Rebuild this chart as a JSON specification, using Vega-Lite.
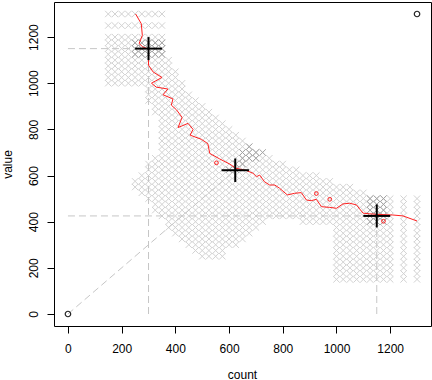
{
"$schema":"https://vega.github.io/schema/vega-lite/v6.json",
"width":377,"height":324,
"autosize":{"type":"none"},
"padding":{"left":54,"top":2,"right":1,"bottom":54},
"background":"white",
"config":{"view":{"stroke":"black","strokeWidth":1},
"axis":{"domain":false,"grid":false,"tickColor":"black","tickSize":7,"tickWidth":1,"labelFont":"Liberation Sans","labelFontSize":12,"labelColor":"black","titleFont":"Liberation Sans","titleFontSize":12,"titleFontWeight":"normal","titleColor":"black","labelOverlap":false,"format":"d"}},
"datasets":{
"cloud":[
{"c":150,"v":1000},{"c":150,"v":1025},{"c":150,"v":1050},{"c":150,"v":1075},{"c":150,"v":1100},{"c":150,"v":1125},{"c":150,"v":1150},{"c":150,"v":1175},{"c":150,"v":1200},{"c":150,"v":1250},{"c":150,"v":1300},
{"c":175,"v":1000},{"c":175,"v":1025},{"c":175,"v":1050},{"c":175,"v":1075},{"c":175,"v":1100},{"c":175,"v":1125},{"c":175,"v":1150},{"c":175,"v":1175},{"c":175,"v":1200},{"c":175,"v":1250},{"c":175,"v":1300},
{"c":200,"v":1000},{"c":200,"v":1025},{"c":200,"v":1050},{"c":200,"v":1075},{"c":200,"v":1100},{"c":200,"v":1125},{"c":200,"v":1150},{"c":200,"v":1175},{"c":200,"v":1200},{"c":200,"v":1250},{"c":200,"v":1300},
{"c":225,"v":1000},{"c":225,"v":1025},{"c":225,"v":1050},{"c":225,"v":1075},{"c":225,"v":1100},{"c":225,"v":1125},{"c":225,"v":1150},{"c":225,"v":1175},{"c":225,"v":1200},{"c":225,"v":1250},{"c":225,"v":1300},
{"c":250,"v":550},{"c":250,"v":575},{"c":250,"v":1000},{"c":250,"v":1025},{"c":250,"v":1050},{"c":250,"v":1075},{"c":250,"v":1100},{"c":250,"v":1125},{"c":250,"v":1150},{"c":250,"v":1175},{"c":250,"v":1200},{"c":250,"v":1250},{"c":250,"v":1300},
{"c":275,"v":525},{"c":275,"v":550},{"c":275,"v":575},{"c":275,"v":600},{"c":275,"v":1000},{"c":275,"v":1025},{"c":275,"v":1050},{"c":275,"v":1075},{"c":275,"v":1100},{"c":275,"v":1125},{"c":275,"v":1150},{"c":275,"v":1175},{"c":275,"v":1200},{"c":275,"v":1250},{"c":275,"v":1300},
{"c":300,"v":500},{"c":300,"v":525},{"c":300,"v":550},{"c":300,"v":575},{"c":300,"v":600},{"c":300,"v":625},{"c":300,"v":650},{"c":300,"v":925},{"c":300,"v":950},{"c":300,"v":975},{"c":300,"v":1000},{"c":300,"v":1025},{"c":300,"v":1050},{"c":300,"v":1075},{"c":300,"v":1100},{"c":300,"v":1125},{"c":300,"v":1150},{"c":300,"v":1175},{"c":300,"v":1200},{"c":300,"v":1250},{"c":300,"v":1300},
{"c":325,"v":450},{"c":325,"v":475},{"c":325,"v":500},{"c":325,"v":525},{"c":325,"v":550},{"c":325,"v":575},{"c":325,"v":600},{"c":325,"v":625},{"c":325,"v":650},{"c":325,"v":675},{"c":325,"v":875},{"c":325,"v":900},{"c":325,"v":925},{"c":325,"v":950},{"c":325,"v":975},{"c":325,"v":1000},{"c":325,"v":1025},{"c":325,"v":1050},{"c":325,"v":1075},{"c":325,"v":1100},{"c":325,"v":1125},{"c":325,"v":1150},{"c":325,"v":1175},{"c":325,"v":1200},{"c":325,"v":1250},{"c":325,"v":1300},
{"c":350,"v":425},{"c":350,"v":450},{"c":350,"v":475},{"c":350,"v":500},{"c":350,"v":525},{"c":350,"v":550},{"c":350,"v":575},{"c":350,"v":600},{"c":350,"v":625},{"c":350,"v":650},{"c":350,"v":675},{"c":350,"v":700},{"c":350,"v":725},{"c":350,"v":750},{"c":350,"v":775},{"c":350,"v":800},{"c":350,"v":825},{"c":350,"v":850},{"c":350,"v":875},{"c":350,"v":900},{"c":350,"v":925},{"c":350,"v":950},{"c":350,"v":975},{"c":350,"v":1000},{"c":350,"v":1025},{"c":350,"v":1050},{"c":350,"v":1075},{"c":350,"v":1100},{"c":350,"v":1125},{"c":350,"v":1150},{"c":350,"v":1175},{"c":350,"v":1200},{"c":350,"v":1250},{"c":350,"v":1300},
{"c":375,"v":375},{"c":375,"v":400},{"c":375,"v":425},{"c":375,"v":450},{"c":375,"v":475},{"c":375,"v":500},{"c":375,"v":525},{"c":375,"v":550},{"c":375,"v":575},{"c":375,"v":600},{"c":375,"v":625},{"c":375,"v":650},{"c":375,"v":675},{"c":375,"v":700},{"c":375,"v":725},{"c":375,"v":750},{"c":375,"v":775},{"c":375,"v":800},{"c":375,"v":825},{"c":375,"v":850},{"c":375,"v":875},{"c":375,"v":900},{"c":375,"v":925},{"c":375,"v":950},{"c":375,"v":975},{"c":375,"v":1000},{"c":375,"v":1025},{"c":375,"v":1050},{"c":375,"v":1075},{"c":375,"v":1100},
{"c":400,"v":350},{"c":400,"v":375},{"c":400,"v":400},{"c":400,"v":425},{"c":400,"v":450},{"c":400,"v":475},{"c":400,"v":500},{"c":400,"v":525},{"c":400,"v":550},{"c":400,"v":575},{"c":400,"v":600},{"c":400,"v":625},{"c":400,"v":650},{"c":400,"v":675},{"c":400,"v":700},{"c":400,"v":725},{"c":400,"v":750},{"c":400,"v":775},{"c":400,"v":800},{"c":400,"v":825},{"c":400,"v":850},{"c":400,"v":875},{"c":400,"v":900},{"c":400,"v":925},{"c":400,"v":950},{"c":400,"v":975},{"c":400,"v":1000},{"c":400,"v":1025},{"c":400,"v":1050},
{"c":425,"v":325},{"c":425,"v":350},{"c":425,"v":375},{"c":425,"v":400},{"c":425,"v":425},{"c":425,"v":450},{"c":425,"v":475},{"c":425,"v":500},{"c":425,"v":525},{"c":425,"v":550},{"c":425,"v":575},{"c":425,"v":600},{"c":425,"v":625},{"c":425,"v":650},{"c":425,"v":675},{"c":425,"v":700},{"c":425,"v":725},{"c":425,"v":750},{"c":425,"v":775},{"c":425,"v":800},{"c":425,"v":825},{"c":425,"v":850},{"c":425,"v":875},{"c":425,"v":900},{"c":425,"v":925},{"c":425,"v":950},{"c":425,"v":975},{"c":425,"v":1000},
{"c":450,"v":300},{"c":450,"v":325},{"c":450,"v":350},{"c":450,"v":375},{"c":450,"v":400},{"c":450,"v":425},{"c":450,"v":450},{"c":450,"v":475},{"c":450,"v":500},{"c":450,"v":525},{"c":450,"v":550},{"c":450,"v":575},{"c":450,"v":600},{"c":450,"v":625},{"c":450,"v":650},{"c":450,"v":675},{"c":450,"v":700},{"c":450,"v":725},{"c":450,"v":750},{"c":450,"v":775},{"c":450,"v":800},{"c":450,"v":825},{"c":450,"v":850},{"c":450,"v":875},{"c":450,"v":900},{"c":450,"v":925},{"c":450,"v":950},
{"c":475,"v":275},{"c":475,"v":300},{"c":475,"v":325},{"c":475,"v":350},{"c":475,"v":375},{"c":475,"v":400},{"c":475,"v":425},{"c":475,"v":450},{"c":475,"v":475},{"c":475,"v":500},{"c":475,"v":525},{"c":475,"v":550},{"c":475,"v":575},{"c":475,"v":600},{"c":475,"v":625},{"c":475,"v":650},{"c":475,"v":675},{"c":475,"v":700},{"c":475,"v":725},{"c":475,"v":750},{"c":475,"v":775},{"c":475,"v":800},{"c":475,"v":825},{"c":475,"v":850},{"c":475,"v":875},{"c":475,"v":900},{"c":475,"v":925},
{"c":500,"v":250},{"c":500,"v":275},{"c":500,"v":300},{"c":500,"v":325},{"c":500,"v":350},{"c":500,"v":375},{"c":500,"v":400},{"c":500,"v":425},{"c":500,"v":450},{"c":500,"v":475},{"c":500,"v":500},{"c":500,"v":525},{"c":500,"v":550},{"c":500,"v":575},{"c":500,"v":600},{"c":500,"v":625},{"c":500,"v":650},{"c":500,"v":675},{"c":500,"v":700},{"c":500,"v":725},{"c":500,"v":750},{"c":500,"v":775},{"c":500,"v":800},{"c":500,"v":825},{"c":500,"v":850},{"c":500,"v":875},{"c":500,"v":900},
{"c":525,"v":250},{"c":525,"v":275},{"c":525,"v":300},{"c":525,"v":325},{"c":525,"v":350},{"c":525,"v":375},{"c":525,"v":400},{"c":525,"v":425},{"c":525,"v":450},{"c":525,"v":475},{"c":525,"v":500},{"c":525,"v":525},{"c":525,"v":550},{"c":525,"v":575},{"c":525,"v":600},{"c":525,"v":625},{"c":525,"v":650},{"c":525,"v":675},{"c":525,"v":700},{"c":525,"v":725},{"c":525,"v":750},{"c":525,"v":775},{"c":525,"v":800},{"c":525,"v":825},{"c":525,"v":850},{"c":525,"v":875},
{"c":550,"v":250},{"c":550,"v":275},{"c":550,"v":300},{"c":550,"v":325},{"c":550,"v":350},{"c":550,"v":375},{"c":550,"v":400},{"c":550,"v":425},{"c":550,"v":450},{"c":550,"v":475},{"c":550,"v":500},{"c":550,"v":525},{"c":550,"v":550},{"c":550,"v":575},{"c":550,"v":600},{"c":550,"v":625},{"c":550,"v":650},{"c":550,"v":675},{"c":550,"v":700},{"c":550,"v":725},{"c":550,"v":750},{"c":550,"v":775},{"c":550,"v":800},{"c":550,"v":825},{"c":550,"v":850},
{"c":575,"v":250},{"c":575,"v":275},{"c":575,"v":300},{"c":575,"v":325},{"c":575,"v":350},{"c":575,"v":375},{"c":575,"v":400},{"c":575,"v":425},{"c":575,"v":450},{"c":575,"v":475},{"c":575,"v":500},{"c":575,"v":525},{"c":575,"v":550},{"c":575,"v":575},{"c":575,"v":600},{"c":575,"v":625},{"c":575,"v":650},{"c":575,"v":675},{"c":575,"v":700},{"c":575,"v":725},{"c":575,"v":750},{"c":575,"v":775},{"c":575,"v":800},{"c":575,"v":825},
{"c":600,"v":300},{"c":600,"v":325},{"c":600,"v":350},{"c":600,"v":375},{"c":600,"v":400},{"c":600,"v":425},{"c":600,"v":450},{"c":600,"v":475},{"c":600,"v":500},{"c":600,"v":525},{"c":600,"v":550},{"c":600,"v":575},{"c":600,"v":600},{"c":600,"v":625},{"c":600,"v":650},{"c":600,"v":675},{"c":600,"v":700},{"c":600,"v":725},{"c":600,"v":750},{"c":600,"v":775},{"c":600,"v":800},
{"c":625,"v":300},{"c":625,"v":325},{"c":625,"v":350},{"c":625,"v":375},{"c":625,"v":400},{"c":625,"v":425},{"c":625,"v":450},{"c":625,"v":475},{"c":625,"v":500},{"c":625,"v":525},{"c":625,"v":550},{"c":625,"v":575},{"c":625,"v":600},{"c":625,"v":625},{"c":625,"v":650},{"c":625,"v":675},{"c":625,"v":700},{"c":625,"v":725},{"c":625,"v":750},{"c":625,"v":775},
{"c":650,"v":325},{"c":650,"v":350},{"c":650,"v":375},{"c":650,"v":400},{"c":650,"v":425},{"c":650,"v":450},{"c":650,"v":475},{"c":650,"v":500},{"c":650,"v":525},{"c":650,"v":550},{"c":650,"v":575},{"c":650,"v":600},{"c":650,"v":625},{"c":650,"v":650},{"c":650,"v":675},{"c":650,"v":700},{"c":650,"v":725},{"c":650,"v":750},
{"c":675,"v":350},{"c":675,"v":375},{"c":675,"v":400},{"c":675,"v":425},{"c":675,"v":450},{"c":675,"v":475},{"c":675,"v":500},{"c":675,"v":525},{"c":675,"v":550},{"c":675,"v":575},{"c":675,"v":600},{"c":675,"v":625},{"c":675,"v":650},{"c":675,"v":675},{"c":675,"v":700},{"c":675,"v":725},
{"c":700,"v":375},{"c":700,"v":400},{"c":700,"v":425},{"c":700,"v":450},{"c":700,"v":475},{"c":700,"v":500},{"c":700,"v":525},{"c":700,"v":550},{"c":700,"v":575},{"c":700,"v":600},{"c":700,"v":625},{"c":700,"v":650},{"c":700,"v":675},{"c":700,"v":700},
{"c":725,"v":400},{"c":725,"v":425},{"c":725,"v":450},{"c":725,"v":475},{"c":725,"v":500},{"c":725,"v":525},{"c":725,"v":550},{"c":725,"v":575},{"c":725,"v":600},{"c":725,"v":625},{"c":725,"v":650},{"c":725,"v":675},
{"c":750,"v":425},{"c":750,"v":450},{"c":750,"v":475},{"c":750,"v":500},{"c":750,"v":525},{"c":750,"v":550},{"c":750,"v":575},{"c":750,"v":600},{"c":750,"v":625},{"c":750,"v":650},{"c":750,"v":675},
{"c":775,"v":425},{"c":775,"v":450},{"c":775,"v":475},{"c":775,"v":500},{"c":775,"v":525},{"c":775,"v":550},{"c":775,"v":575},{"c":775,"v":600},{"c":775,"v":625},{"c":775,"v":650},
{"c":800,"v":425},{"c":800,"v":450},{"c":800,"v":475},{"c":800,"v":500},{"c":800,"v":525},{"c":800,"v":550},{"c":800,"v":575},{"c":800,"v":600},{"c":800,"v":625},{"c":800,"v":650},
{"c":825,"v":425},{"c":825,"v":450},{"c":825,"v":475},{"c":825,"v":500},{"c":825,"v":525},{"c":825,"v":550},{"c":825,"v":575},{"c":825,"v":600},{"c":825,"v":625},
{"c":850,"v":425},{"c":850,"v":450},{"c":850,"v":475},{"c":850,"v":500},{"c":850,"v":525},{"c":850,"v":550},{"c":850,"v":575},{"c":850,"v":600},{"c":850,"v":625},
{"c":875,"v":400},{"c":875,"v":425},{"c":875,"v":450},{"c":875,"v":475},{"c":875,"v":500},{"c":875,"v":525},{"c":875,"v":550},{"c":875,"v":575},{"c":875,"v":600},
{"c":900,"v":400},{"c":900,"v":425},{"c":900,"v":450},{"c":900,"v":475},{"c":900,"v":500},{"c":900,"v":525},{"c":900,"v":550},{"c":900,"v":575},{"c":900,"v":600},
{"c":925,"v":400},{"c":925,"v":425},{"c":925,"v":450},{"c":925,"v":475},{"c":925,"v":500},{"c":925,"v":525},{"c":925,"v":550},{"c":925,"v":575},{"c":925,"v":600},
{"c":950,"v":400},{"c":950,"v":425},{"c":950,"v":450},{"c":950,"v":475},{"c":950,"v":500},{"c":950,"v":525},{"c":950,"v":550},{"c":950,"v":575},
{"c":975,"v":400},{"c":975,"v":425},{"c":975,"v":450},{"c":975,"v":475},{"c":975,"v":500},{"c":975,"v":525},{"c":975,"v":550},{"c":975,"v":575},
{"c":1000,"v":150},{"c":1000,"v":175},{"c":1000,"v":200},{"c":1000,"v":225},{"c":1000,"v":250},{"c":1000,"v":275},{"c":1000,"v":300},{"c":1000,"v":325},{"c":1000,"v":350},{"c":1000,"v":375},{"c":1000,"v":400},{"c":1000,"v":425},{"c":1000,"v":450},{"c":1000,"v":475},{"c":1000,"v":500},{"c":1000,"v":525},{"c":1000,"v":550},
{"c":1025,"v":150},{"c":1025,"v":175},{"c":1025,"v":200},{"c":1025,"v":225},{"c":1025,"v":250},{"c":1025,"v":275},{"c":1025,"v":300},{"c":1025,"v":325},{"c":1025,"v":350},{"c":1025,"v":375},{"c":1025,"v":400},{"c":1025,"v":425},{"c":1025,"v":450},{"c":1025,"v":475},{"c":1025,"v":500},{"c":1025,"v":525},{"c":1025,"v":550},
{"c":1050,"v":150},{"c":1050,"v":175},{"c":1050,"v":200},{"c":1050,"v":225},{"c":1050,"v":250},{"c":1050,"v":275},{"c":1050,"v":300},{"c":1050,"v":325},{"c":1050,"v":350},{"c":1050,"v":375},{"c":1050,"v":400},{"c":1050,"v":425},{"c":1050,"v":450},{"c":1050,"v":475},{"c":1050,"v":500},{"c":1050,"v":525},{"c":1050,"v":550},
{"c":1075,"v":150},{"c":1075,"v":175},{"c":1075,"v":200},{"c":1075,"v":225},{"c":1075,"v":250},{"c":1075,"v":275},{"c":1075,"v":300},{"c":1075,"v":325},{"c":1075,"v":350},{"c":1075,"v":375},{"c":1075,"v":400},{"c":1075,"v":425},{"c":1075,"v":450},{"c":1075,"v":475},{"c":1075,"v":500},{"c":1075,"v":525},
{"c":1100,"v":150},{"c":1100,"v":175},{"c":1100,"v":200},{"c":1100,"v":225},{"c":1100,"v":250},{"c":1100,"v":275},{"c":1100,"v":300},{"c":1100,"v":325},{"c":1100,"v":350},{"c":1100,"v":375},{"c":1100,"v":400},{"c":1100,"v":425},{"c":1100,"v":450},{"c":1100,"v":475},{"c":1100,"v":500},{"c":1100,"v":525},
{"c":1125,"v":150},{"c":1125,"v":175},{"c":1125,"v":200},{"c":1125,"v":225},{"c":1125,"v":250},{"c":1125,"v":275},{"c":1125,"v":300},{"c":1125,"v":325},{"c":1125,"v":350},{"c":1125,"v":375},{"c":1125,"v":400},{"c":1125,"v":425},{"c":1125,"v":450},{"c":1125,"v":475},{"c":1125,"v":500},
{"c":1150,"v":150},{"c":1150,"v":175},{"c":1150,"v":200},{"c":1150,"v":225},{"c":1150,"v":250},{"c":1150,"v":275},{"c":1150,"v":300},{"c":1150,"v":325},{"c":1150,"v":350},{"c":1150,"v":375},{"c":1150,"v":400},{"c":1150,"v":425},{"c":1150,"v":450},{"c":1150,"v":475},{"c":1150,"v":500},
{"c":1175,"v":150},{"c":1175,"v":175},{"c":1175,"v":200},{"c":1175,"v":225},{"c":1175,"v":250},{"c":1175,"v":275},{"c":1175,"v":300},{"c":1175,"v":325},{"c":1175,"v":350},{"c":1175,"v":375},{"c":1175,"v":400},{"c":1175,"v":425},{"c":1175,"v":450},{"c":1175,"v":475},{"c":1175,"v":500},
{"c":1200,"v":150},{"c":1200,"v":175},{"c":1200,"v":200},{"c":1200,"v":225},{"c":1200,"v":250},{"c":1200,"v":275},{"c":1200,"v":300},{"c":1200,"v":325},{"c":1200,"v":350},{"c":1200,"v":375},{"c":1200,"v":400},{"c":1200,"v":425},{"c":1200,"v":450},{"c":1200,"v":475},{"c":1200,"v":500},
{"c":1250,"v":150},{"c":1250,"v":175},{"c":1250,"v":200},{"c":1250,"v":225},{"c":1250,"v":250},{"c":1250,"v":275},{"c":1250,"v":300},{"c":1250,"v":325},{"c":1250,"v":350},{"c":1250,"v":375},{"c":1250,"v":400},{"c":1250,"v":425},{"c":1250,"v":450},{"c":1250,"v":475},{"c":1250,"v":500},
{"c":1300,"v":150},{"c":1300,"v":175},{"c":1300,"v":200},{"c":1300,"v":225},{"c":1300,"v":250},{"c":1300,"v":275},{"c":1300,"v":300},{"c":1300,"v":325},{"c":1300,"v":350},{"c":1300,"v":375},{"c":1300,"v":400},{"c":1300,"v":425},{"c":1300,"v":450},{"c":1300,"v":475},{"c":1300,"v":500}
],
"dark":[
{"c":250,"v":1125},{"c":250,"v":1150},{"c":250,"v":1175},{"c":275,"v":1125},{"c":275,"v":1150},{"c":275,"v":1175},{"c":300,"v":1125},{"c":300,"v":1150},{"c":300,"v":1175},{"c":325,"v":1125},{"c":325,"v":1150},{"c":325,"v":1175},{"c":350,"v":1125},{"c":350,"v":1150},{"c":350,"v":1175},
{"c":600,"v":625},{"c":625,"v":625},{"c":625,"v":650},{"c":650,"v":650},{"c":650,"v":675},{"c":675,"v":675},{"c":650,"v":700},{"c":675,"v":700},{"c":700,"v":700},{"c":700,"v":675},{"c":725,"v":700},{"c":675,"v":725},
{"c":1125,"v":400},{"c":1125,"v":425},{"c":1125,"v":450},{"c":1125,"v":475},{"c":1125,"v":500},{"c":1150,"v":400},{"c":1150,"v":425},{"c":1150,"v":450},{"c":1150,"v":475},{"c":1150,"v":500},{"c":1175,"v":400},{"c":1175,"v":425},{"c":1175,"v":450},{"c":1175,"v":475},{"c":1175,"v":500}
],
"path":[
{"i":1,"c":252,"v":1300},{"i":2,"c":273,"v":1258},{"i":3,"c":277,"v":1207},{"i":4,"c":265,"v":1172},{"i":5,"c":279,"v":1157},{"i":6,"c":300,"v":1148},{"i":7,"c":300,"v":1078},{"i":8,"c":317,"v":1049},{"i":9,"c":350,"v":1025},{"i":10,"c":311,"v":1000},{"i":11,"c":329,"v":983},{"i":12,"c":372,"v":975},{"i":13,"c":354,"v":950},{"i":14,"c":391,"v":932},{"i":15,"c":385,"v":905},{"i":16,"c":404,"v":885},{"i":17,"c":425,"v":852},{"i":18,"c":410,"v":808},{"i":19,"c":447,"v":826},{"i":20,"c":466,"v":800},{"i":21,"c":455,"v":775},{"i":22,"c":497,"v":757},{"i":23,"c":521,"v":738},{"i":24,"c":528,"v":696},{"i":25,"c":565,"v":672},{"i":26,"c":602,"v":650},{"i":27,"c":625,"v":632},{"i":28,"c":664,"v":622},{"i":29,"c":689,"v":610},{"i":30,"c":702,"v":595},{"i":31,"c":714,"v":602},{"i":32,"c":732,"v":573},{"i":33,"c":751,"v":559},{"i":34,"c":770,"v":559},{"i":35,"c":788,"v":545},{"i":36,"c":817,"v":516},{"i":37,"c":844,"v":523},{"i":38,"c":869,"v":526},{"i":39,"c":888,"v":494},{"i":40,"c":906,"v":491},{"i":41,"c":925,"v":497},{"i":42,"c":944,"v":465},{"i":43,"c":975,"v":462},{"i":44,"c":1000,"v":458},{"i":45,"c":1024,"v":477},{"i":46,"c":1049,"v":480},{"i":47,"c":1074,"v":473},{"i":48,"c":1099,"v":437},{"i":49,"c":1124,"v":434},{"i":50,"c":1149,"v":432},{"i":51,"c":1210,"v":429},{"i":52,"c":1248,"v":425},{"i":53,"c":1300,"v":403}
],
"loops":[{"c":553,"v":655},{"c":975,"v":497},{"c":1175,"v":402},{"c":925,"v":522}],
"guides":[{"c":0,"c2":300,"v":1150,"v2":1150},{"c":300,"c2":300,"v":0,"v2":1150},{"c":0,"c2":1150,"v":425,"v2":425},{"c":1150,"c2":1150,"v":0,"v2":425},{"c":0,"c2":623,"v":0,"v2":623}],
"cross":[{"c":250,"c2":350,"v":1150,"v2":1150},{"c":300,"c2":300,"v":1100,"v2":1200},{"c":572,"c2":674,"v":623,"v2":623},{"c":623,"c2":623,"v":572,"v2":674},{"c":1100,"c2":1200,"v":425,"v2":425},{"c":1150,"c2":1150,"v":375,"v2":475}],
"ends":[{"c":0,"v":0},{"c":1300,"v":1300}]
},
"encoding":{
"x":{"field":"c","type":"quantitative","scale":{"domain":[-52,1352],"nice":false,"zero":false},"axis":{"title":"count","values":[0,200,400,600,800,1000,1200],"labelPadding":19,"labelBaseline":"alphabetic","labelFlush":false,"titleX":188,"titleY":52,"titleAlign":"center","titleBaseline":"alphabetic"}},
"y":{"field":"v","type":"quantitative","scale":{"domain":[-52,1352],"nice":false,"zero":false},"axis":{"title":"value","values":[0,200,400,600,800,1000,1200],"labelAngle":-90,"labelAlign":"center","labelBaseline":"alphabetic","labelPadding":10,"labelFlush":false,"titleAngle":-90,"titleX":-43,"titleY":162,"titleAlign":"center","titleBaseline":"alphabetic"}}
},
"layer":[
{"data":{"name":"cloud"},"mark":{"type":"point","shape":"M-1,-1L1,1M-1,1L1,-1","filled":false,"color":"#d2d2d2","strokeWidth":1,"size":40,"opacity":1}},
{"data":{"name":"dark"},"mark":{"type":"point","shape":"M-1,-1L1,1M-1,1L1,-1","filled":false,"color":"#a2a2a2","strokeWidth":1,"size":40,"opacity":1}},
{"data":{"name":"guides"},"mark":{"type":"rule","color":"#c6c6c6","strokeWidth":1,"strokeDash":[7,4]},
"encoding":{"x2":{"field":"c2"},"y2":{"field":"v2"}}},
{"data":{"name":"path"},"mark":{"type":"line","color":"#ff2020","strokeWidth":1},
"encoding":{"order":{"field":"i","type":"quantitative"}}},
{"data":{"name":"loops"},"mark":{"type":"point","shape":"circle","filled":false,"color":"#ff2020","strokeWidth":1,"size":14,"opacity":1}},
{"data":{"name":"cross"},"mark":{"type":"rule","color":"black","strokeWidth":2},
"encoding":{"x2":{"field":"c2"},"y2":{"field":"v2"}}},
{"data":{"name":"ends"},"mark":{"type":"point","shape":"circle","filled":false,"color":"#222222","strokeWidth":1.2,"size":30,"opacity":1}}
]
}
